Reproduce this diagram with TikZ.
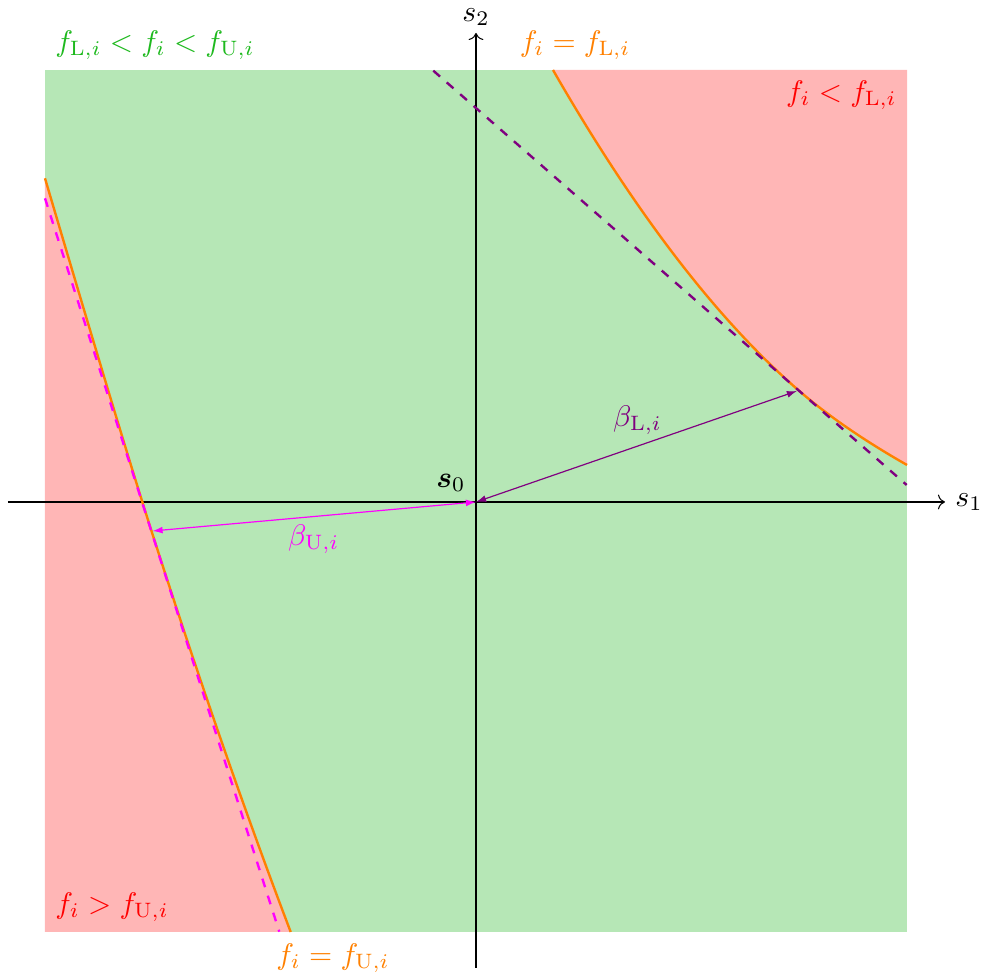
\documentclass[tikz,border=0pt]{standalone}
\usepackage{amsmath}
\usetikzlibrary{arrows.meta}
\definecolor{regiongreen}{RGB}{182,231,182}
\definecolor{regionred}{RGB}{255,182,182}
\definecolor{textgreen}{RGB}{30,185,30}
\definecolor{curveorange}{RGB}{255,128,0}
\definecolor{betaviolet}{RGB}{128,0,128}
\definecolor{betamagenta}{RGB}{255,0,255}
\definecolor{textred}{RGB}{255,0,0}
\tikzset{
  boundary/.style={curveorange, line width=0.8pt},
  tangentL/.style={betaviolet, dashed, line width=0.8pt},
  tangentU/.style={betamagenta, dashed, line width=0.8pt},
  axisline/.style={black, line width=0.35pt, ->},
  betaarrow/.style={line width=0.4pt, {Latex[length=3.4pt,width=2.3pt]}-{Latex[length=3.4pt,width=2.3pt]}},
  lbl/.style={inner sep=3.3pt}
}
\begin{document}
\begin{tikzpicture}[x=0.336pt,y=0.336pt]
\useasboundingbox (-476,-473) rectangle (506,502);
% regions
\fill[regiongreen] (-431,-430) rectangle (431,432);
\fill[regionred] (77,432) .. controls (158.4,290.3) and (239.7,184) .. (321,113)
  .. controls (350.2,87.5) and (386.9,62.1) .. (431,37) -- (431,432) -- cycle;
\fill[regionred] (-431,323.7) .. controls (-381.3,155.3) and (-345.8,37.8) .. (-324.5,-29)
  .. controls (-277.4,-176.3) and (-231,-309.9) .. (-185.3,-430) -- (-431,-430) -- cycle;
% axes
\coordinate (O) at (0,0);
\coordinate (xs) at (-468,0);
\coordinate (xe) at (469,0);
\coordinate (ys) at (0,-466);
\coordinate (ye) at (0,469);
\draw[axisline] (xs) -- (xe) node[right, lbl] (s1) {$s_1$};
\draw[axisline] (ys) -- (ye) node[above, inner sep=2.3pt] (s2) {$s_2$};
% boundaries
\draw[boundary] (77,432) .. controls (158.4,290.3) and (239.7,184) .. (321,113)
  .. controls (350.2,87.5) and (386.9,62.1) .. (431,37);
\draw[boundary] (-431,323.7) .. controls (-381.3,155.3) and (-345.8,37.8) .. (-324.5,-29)
  .. controls (-277.4,-176.3) and (-231,-309.9) .. (-185.3,-430);
% tangent lines
\coordinate (la) at (-42.7,431.3);
\coordinate (lb) at (430.7,17);
\coordinate (ua) at (-431,303.7);
\coordinate (ub) at (-196.7,-429.7);
\draw[tangentL] (la) -- (lb);
\draw[tangentU] (ua) -- (ub);
% beta arrows
\coordinate (TL) at (321,111);
\coordinate (TU) at (-323.5,-29);
\draw[betaarrow, betaviolet] (O) -- (TL);
\draw[betaarrow, betamagenta] (O) -- (TU);
\node[betaviolet] (bL) at (161.5,82) {$\beta_{\mathrm{L},i}$};
\node[betamagenta] (bU) at (-162.3,-37) {$\beta_{\mathrm{U},i}$};
\node[above left, lbl] (s0) at (O) {$\boldsymbol{s}_0$};
% region labels
\node[above right, lbl, textgreen] (tg) at (-431,432) {$f_{\mathrm{L},i} < f_i < f_{\mathrm{U},i}$};
\node[curveorange] (toL) at (99,457) {$f_i = f_{\mathrm{L},i}$};
\node[below left, lbl, textred] (trL) at (431,432) {$f_i < f_{\mathrm{L},i}$};
\node[above right, lbl, textred] (trU) at (-431,-430) {$f_i > f_{\mathrm{U},i}$};
\node[curveorange] (toU) at (-143,-456) {$f_i = f_{\mathrm{U},i}$};
\end{tikzpicture}
\end{document}
